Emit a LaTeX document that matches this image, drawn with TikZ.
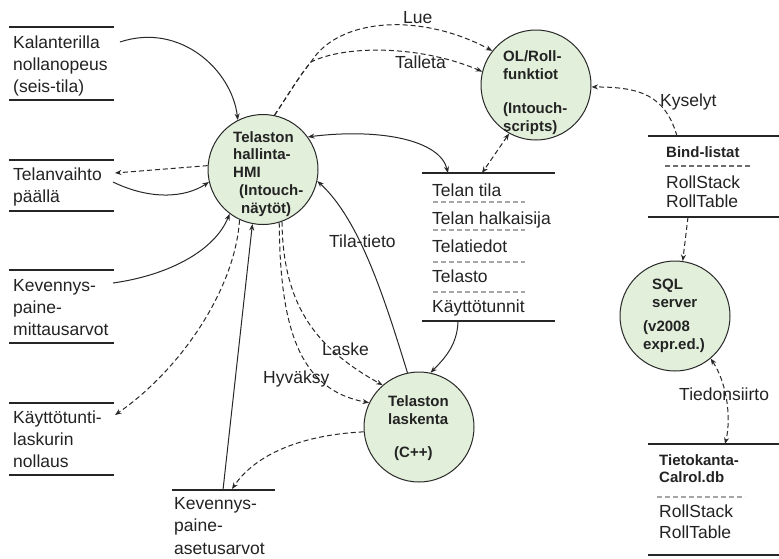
\documentclass[tikz,border=0pt]{standalone}
\usepackage{fontspec}
\setmainfont{Liberation Sans}
\usetikzlibrary{arrows.meta}
\definecolor{cfill}{RGB}{226,239,218}
\definecolor{cline}{RGB}{40,40,40}
\definecolor{txtc}{RGB}{35,35,35}
\begin{document}
\begin{tikzpicture}[x=1pt,y=-1pt,
 proc/.style={circle, draw=cline, line width=1pt, fill=cfill, minimum size=110pt, inner sep=0pt},
 ptxt/.style={font=\bfseries\fontsize{15}{17.8}\selectfont, text=txtc, align=left, inner sep=0pt, anchor=base west},
 btxt/.style={font=\fontsize{17.5}{22.3}\selectfont, text=txtc, align=left, inner sep=0pt, anchor=base west},
 lbl/.style={font=\fontsize{17.5}{20}\selectfont, text=txtc, inner sep=0pt, anchor=base west},
 store/.style={line width=1.2pt, draw=black!85},
 sep/.style={draw=gray!70, line width=1.2pt, dash pattern=on 5pt off 3pt},
 flow/.style={draw=cline, line width=1pt, -{Stealth[length=6.5pt,width=5pt]}},
 dflow/.style={flow, dash pattern=on 5pt off 3pt},
 both/.style={{Stealth[length=6.5pt,width=5pt]}-{Stealth[length=6.5pt,width=5pt]}}]
\useasboundingbox[fill=white] (0,0) rectangle (779,558);

% processes
\node[proc] (hmi) at (263,169.5) {};
\node[proc] (ol) at (536,85) {};
\node[proc] (sql) at (675,316) {};
\node[proc] (lask) at (419,427) {};

% multi-line texts: anchored at the baseline of their last line
\node[ptxt] (hmit) at (233,213.2) {Telaston\\hallinta-\\HMI\\\hspace{6pt}(Intouch-\\\hspace{8pt}näytöt)};
\node[ptxt] (olt) at (503,131) {OL/Roll-\\funktiot\\[16pt](Intouch-\\scripts)};
\node[ptxt] (laskt) at (388,457) {Telaston\\laskenta\\[15pt]\hspace{6pt}(C++)};
\node[ptxt] (sqlt) at (643,349) {\hspace{9pt}SQL\\\hspace{9pt}server\\[6pt](v2008\\expr.ed.)};

% left stores
\draw[store] (9,27) -- (114,27) (9,100) -- (114,100);
\node[btxt] (kal) at (13,92.6) {Kalanterilla\\nollanopeus\\(seis-tila)};
\draw[store] (9,160) -- (114,160) (9,211) -- (114,211);
\node[btxt] (telv) at (13,202.3) {Telanvaihto\\päällä};
\draw[store] (9,270) -- (114,270) (9,343) -- (114,343);
\node[btxt] (kevm) at (13,335.6) {Kevennys-\\paine-\\mittausarvot};
\draw[store] (9,403) -- (114,403) (9,475) -- (114,475);
\node[btxt] (kayt) at (13,467.6) {Käyttötunti-\\laskurin\\nollaus};
\draw[store] (172,490) -- (275,490);
\node[btxt] (keva) at (174,554) {Kevennys-\\paine-\\asetusarvot};

% middle list
\draw[store] (422,173) -- (555,173) (422,321) -- (555,321);
\node[lbl] (li1) at (432,196) {Telan tila};
\node[lbl] (li2) at (432,224) {Telan halkaisija};
\node[lbl] (li3) at (432,252) {Telatiedot};
\node[lbl] (li4) at (432,282) {Telasto};
\node[lbl] (li5) at (432,312) {Käyttötunnit};
\draw[sep] (433,202) -- (525,202) (433,230) -- (525,230) (433,262) -- (525,262) (433,292) -- (525,292);

% right stores
\draw[store] (648,136) -- (785,136) (648,217) -- (785,217);
\node[ptxt] (bind) at (666,157) {Bind-listat};
\draw[sep, draw=gray!85!black] (665,166) -- (752,166);
\node[btxt, font=\fontsize{17.5}{19.8}\selectfont] (bindr) at (666,207.8) {RollStack\\RollTable};
\draw[store] (648,444) -- (785,444) (648,555) -- (785,555);
\node[ptxt] (tk) at (659,482.8) {Tietokanta-\\Calrol.db};
\draw[sep] (657,497) -- (745,497);
\node[btxt, font=\fontsize{17.5}{21}\selectfont] (tkr) at (659,538) {RollStack\\RollTable};

% connector ends on stores
\coordinate (kalo) at (120,42);
\coordinate (telvin) at (115,173);
\coordinate (telvo) at (113,182);
\coordinate (kevmo) at (113,283);
\coordinate (kaytin) at (115,415);
\coordinate (kevao) at (223,490);
\coordinate (kevain) at (232,489);
\coordinate (listin) at (448,173);
\coordinate (listol) at (482,173);
\coordinate (listo) at (458,322);
\coordinate (bindo) at (677,136);
\coordinate (bindb) at (688,217);
\coordinate (tkin) at (725,444);
\coordinate (jn) at (311,62);

% connectors
\draw[flow] (kalo) .. controls (180,22) and (232,70) .. (hmi.117);
\draw[dflow] (hmi.176) -- (telvin);
\draw[flow] (telvo) .. controls (150,200) and (185,198) .. (hmi.193);
\draw[flow] (kevmo) .. controls (170,275) and (215,250) .. (hmi.233);
\draw[dflow] (hmi.245) .. controls (235,290) and (180,370) .. (kaytin);
\draw[flow] (kevao) -- (hmi.259);
\draw[dflow] (lask.185) .. controls (300,435) and (255,455) .. (kevain);
\draw[dflow] (hmi.290) .. controls (283,310) and (320,350) .. (lask.131);
\draw[dflow] (hmi.287) .. controls (280,330) and (300,390) .. (lask.154);
\draw[flow] (lask.102) .. controls (385,300) and (360,220) .. (hmi.-12);
\draw[flow, both] (hmi.36) .. controls (380,128) and (440,140) .. (listin);
\draw[dflow, both] (ol.241) -- (listol);
\draw[dflow] (hmi.78) .. controls (290,92) and (300,75) .. (jn) .. controls (338,18) and (420,12) .. (ol.142);
\draw[dflow] (hmi.78) .. controls (290,92) and (300,75) .. (jn) .. controls (345,45) and (420,45) .. (ol.166);
\draw[dflow] (bindo) .. controls (665,95) and (640,87) .. (ol.-2);
\draw[dflow] (bindb) -- (sql.82);
\draw[dflow, both] (sql.-50) .. controls (728,385) and (731,420) .. (tkin);
\draw[flow] (listo) .. controls (457,345) and (445,358) .. (lask.78);

% labels
\node[lbl] (llue) at (403,23) {Lue};
\node[lbl] (ltal) at (395,68) {Talleta};
\node[lbl] (lkys) at (660,106) {Kyselyt};
\node[lbl] (ltila) at (329,247) {Tila-tieto};
\node[lbl] (llas) at (322,355) {Laske};
\node[lbl] (lhyv) at (263,383) {Hyväksy};
\node[lbl] (ltied) at (679,400) {Tiedonsiirto};
\end{tikzpicture}
\end{document}
